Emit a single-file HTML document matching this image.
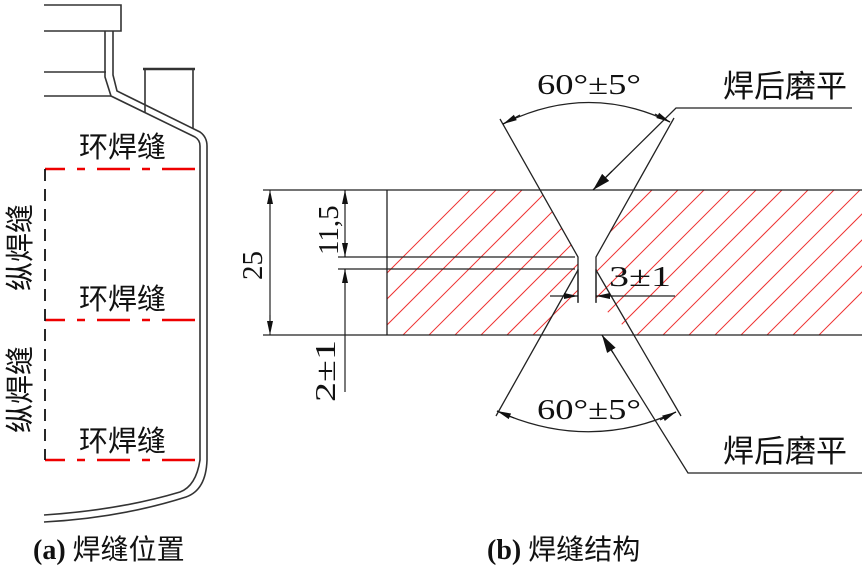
<!DOCTYPE html>
<html><head><meta charset="utf-8"><style>
html,body{margin:0;padding:0;background:#fff;}
svg{display:block;}
text{font-family:"Liberation Serif","Noto Serif CJK SC",serif;fill:#111;}
.cjk{font-family:"Liberation Sans","Noto Sans CJK SC",sans-serif;}
</style></head><body>
<svg width="862" height="569" viewBox="0 0 862 569" xmlns="http://www.w3.org/2000/svg">
<defs>
<clipPath id="hc"><polygon points="387,190 540,190 578,257 578,302 540,335 387,335"/><polygon points="634,190 862,190 862,335 634,335 596,302 596,257"/></clipPath>
<marker id="ar" markerWidth="14" markerHeight="8" refX="14" refY="4" orient="auto" markerUnits="userSpaceOnUse"><path d="M0,1 L14,4 L0,7 Z" fill="#111"/></marker>
<marker id="ar2" markerWidth="18" markerHeight="10" refX="18" refY="5" orient="auto" markerUnits="userSpaceOnUse"><path d="M0,0 L18,5 L0,10 Z" fill="#111"/></marker>
</defs>
<g stroke="#333" stroke-width="1.6" fill="none">
<path d="M44,5 H121 V31 H44"/>
<path d="M44,72 H106 M44,96 H111"/>
<path d="M105,31 V77 L111,96 L195,137 Q200,140 200,146 V460 Q196,486 180,492 Q120,510 44,515"/>
<path d="M113,31 V75 L117,91 L200,132 Q207,137 207,146 V460 Q206,490 186,497 Q120,518 44,522"/>
<path d="M145,70 V112 M193,70 V128"/>
<path d="M143,69 H195" stroke-width="2.5"/>
</g>
<g stroke="#e00" stroke-width="2.5" fill="none" stroke-dasharray="33 12 8 12" stroke-dashoffset="13">
<path d="M45,169 H201 M45,320 H201 M45,460 H201"/>
</g>
<path d="M45,169 V460" stroke="#111" stroke-width="1.8" stroke-dasharray="12 8" fill="none"/>
<g font-size="29">
<text x="79" y="157" class="cjk">环焊缝</text>
<text x="79" y="309" class="cjk">环焊缝</text>
<text x="79" y="451" class="cjk">环焊缝</text>
<text class="cjk" transform="translate(30,291) rotate(-90)">纵焊缝</text>
<text class="cjk" transform="translate(30,433) rotate(-90)">纵焊缝</text>
</g>
<g clip-path="url(#hc)" stroke="#e33" stroke-width="1">
<path d="M300,360 L500,160 M326,360 L526,160 M352,360 L552,160 M378,360 L578,160 M404,360 L604,160 M430,360 L630,160 M456,360 L656,160 M482,360 L682,160 M508,360 L708,160 M534,360 L734,160 M560,360 L760,160 M586,360 L786,160 M612,360 L812,160 M638,360 L838,160 M664,360 L864,160 M690,360 L890,160 M716,360 L916,160 M742,360 L942,160 M768,360 L968,160 M794,360 L994,160"/>
</g>
<g stroke="#222" stroke-width="1.3" fill="none">
<path d="M263,190 H862 M263,335 H862"/>
<path d="M387,190 V335"/>
<path d="M500,119 L578,257 V302 M674,118 L596,257 V302"/>
<path d="M496,416 L578,270 M681,416 L596,270"/>
<path d="M338,257 H575 M338,269 H575"/>
<path d="M578,269 V303 M596,269 V303"/>
<path d="M503,124 Q587,82 670,122"/>
<path d="M497,411 Q588,452 676,412"/>
<path d="M852,108 H676 L593,190"/>
<path d="M862,473 H688 L602,335"/>
</g>
<g stroke="#222" stroke-width="1.2" fill="none">
<path d="M270,200 V325" />
<path d="M345,190 V257 M345,269 V392"/>
<path d="M550,296 H578 M596,296 H675"/>
</g>
<g stroke="#111" stroke-width="1" fill="none">
<line x1="270" y1="210" x2="270" y2="190" marker-end="url(#ar)"/>
<line x1="270" y1="315" x2="270" y2="335" marker-end="url(#ar)"/>
<line x1="345" y1="210" x2="345" y2="190" marker-end="url(#ar)"/>
<line x1="345" y1="240" x2="345" y2="257" marker-end="url(#ar)"/>
<line x1="345" y1="290" x2="345" y2="269" marker-end="url(#ar)"/>
<line x1="560" y1="296" x2="578" y2="296" marker-end="url(#ar)"/>
<line x1="614" y1="296" x2="596" y2="296" marker-end="url(#ar)"/>
<line x1="520" y1="115" x2="503" y2="124" marker-end="url(#ar)"/>
<line x1="655" y1="114" x2="670" y2="122" marker-end="url(#ar)"/>
<line x1="514" y1="418" x2="497" y2="411" marker-end="url(#ar)"/>
<line x1="660" y1="420" x2="676" y2="412" marker-end="url(#ar)"/>
<line x1="612" y1="171" x2="593" y2="190" marker-end="url(#ar2)"/>
<line x1="613" y1="353" x2="602" y2="335" marker-end="url(#ar2)"/>
</g>
<g font-size="29">
<text x="537" y="94" textLength="104" lengthAdjust="spacingAndGlyphs">60°±5°</text>
<text x="537" y="419" textLength="104" lengthAdjust="spacingAndGlyphs">60°±5°</text>
<text x="609" y="286" textLength="62" lengthAdjust="spacingAndGlyphs">3±1</text>
<text transform="translate(262,280) rotate(-90)">25</text>
<text transform="translate(338,255) rotate(-90)">11,5</text>
<text transform="translate(335,402) rotate(-90)" textLength="62" lengthAdjust="spacingAndGlyphs">2±1</text>
</g>
<g font-size="31">
<text x="723" y="97" class="cjk">焊后磨平</text>
<text x="723" y="462" class="cjk">焊后磨平</text>
</g>
<text x="33" y="559" font-size="28" font-weight="bold">(a) <tspan class="cjk" font-weight="normal">焊缝位置</tspan></text>
<text x="487" y="559" font-size="28" font-weight="bold">(b) <tspan class="cjk" font-weight="normal">焊缝结构</tspan></text>
</svg>
</body></html>
